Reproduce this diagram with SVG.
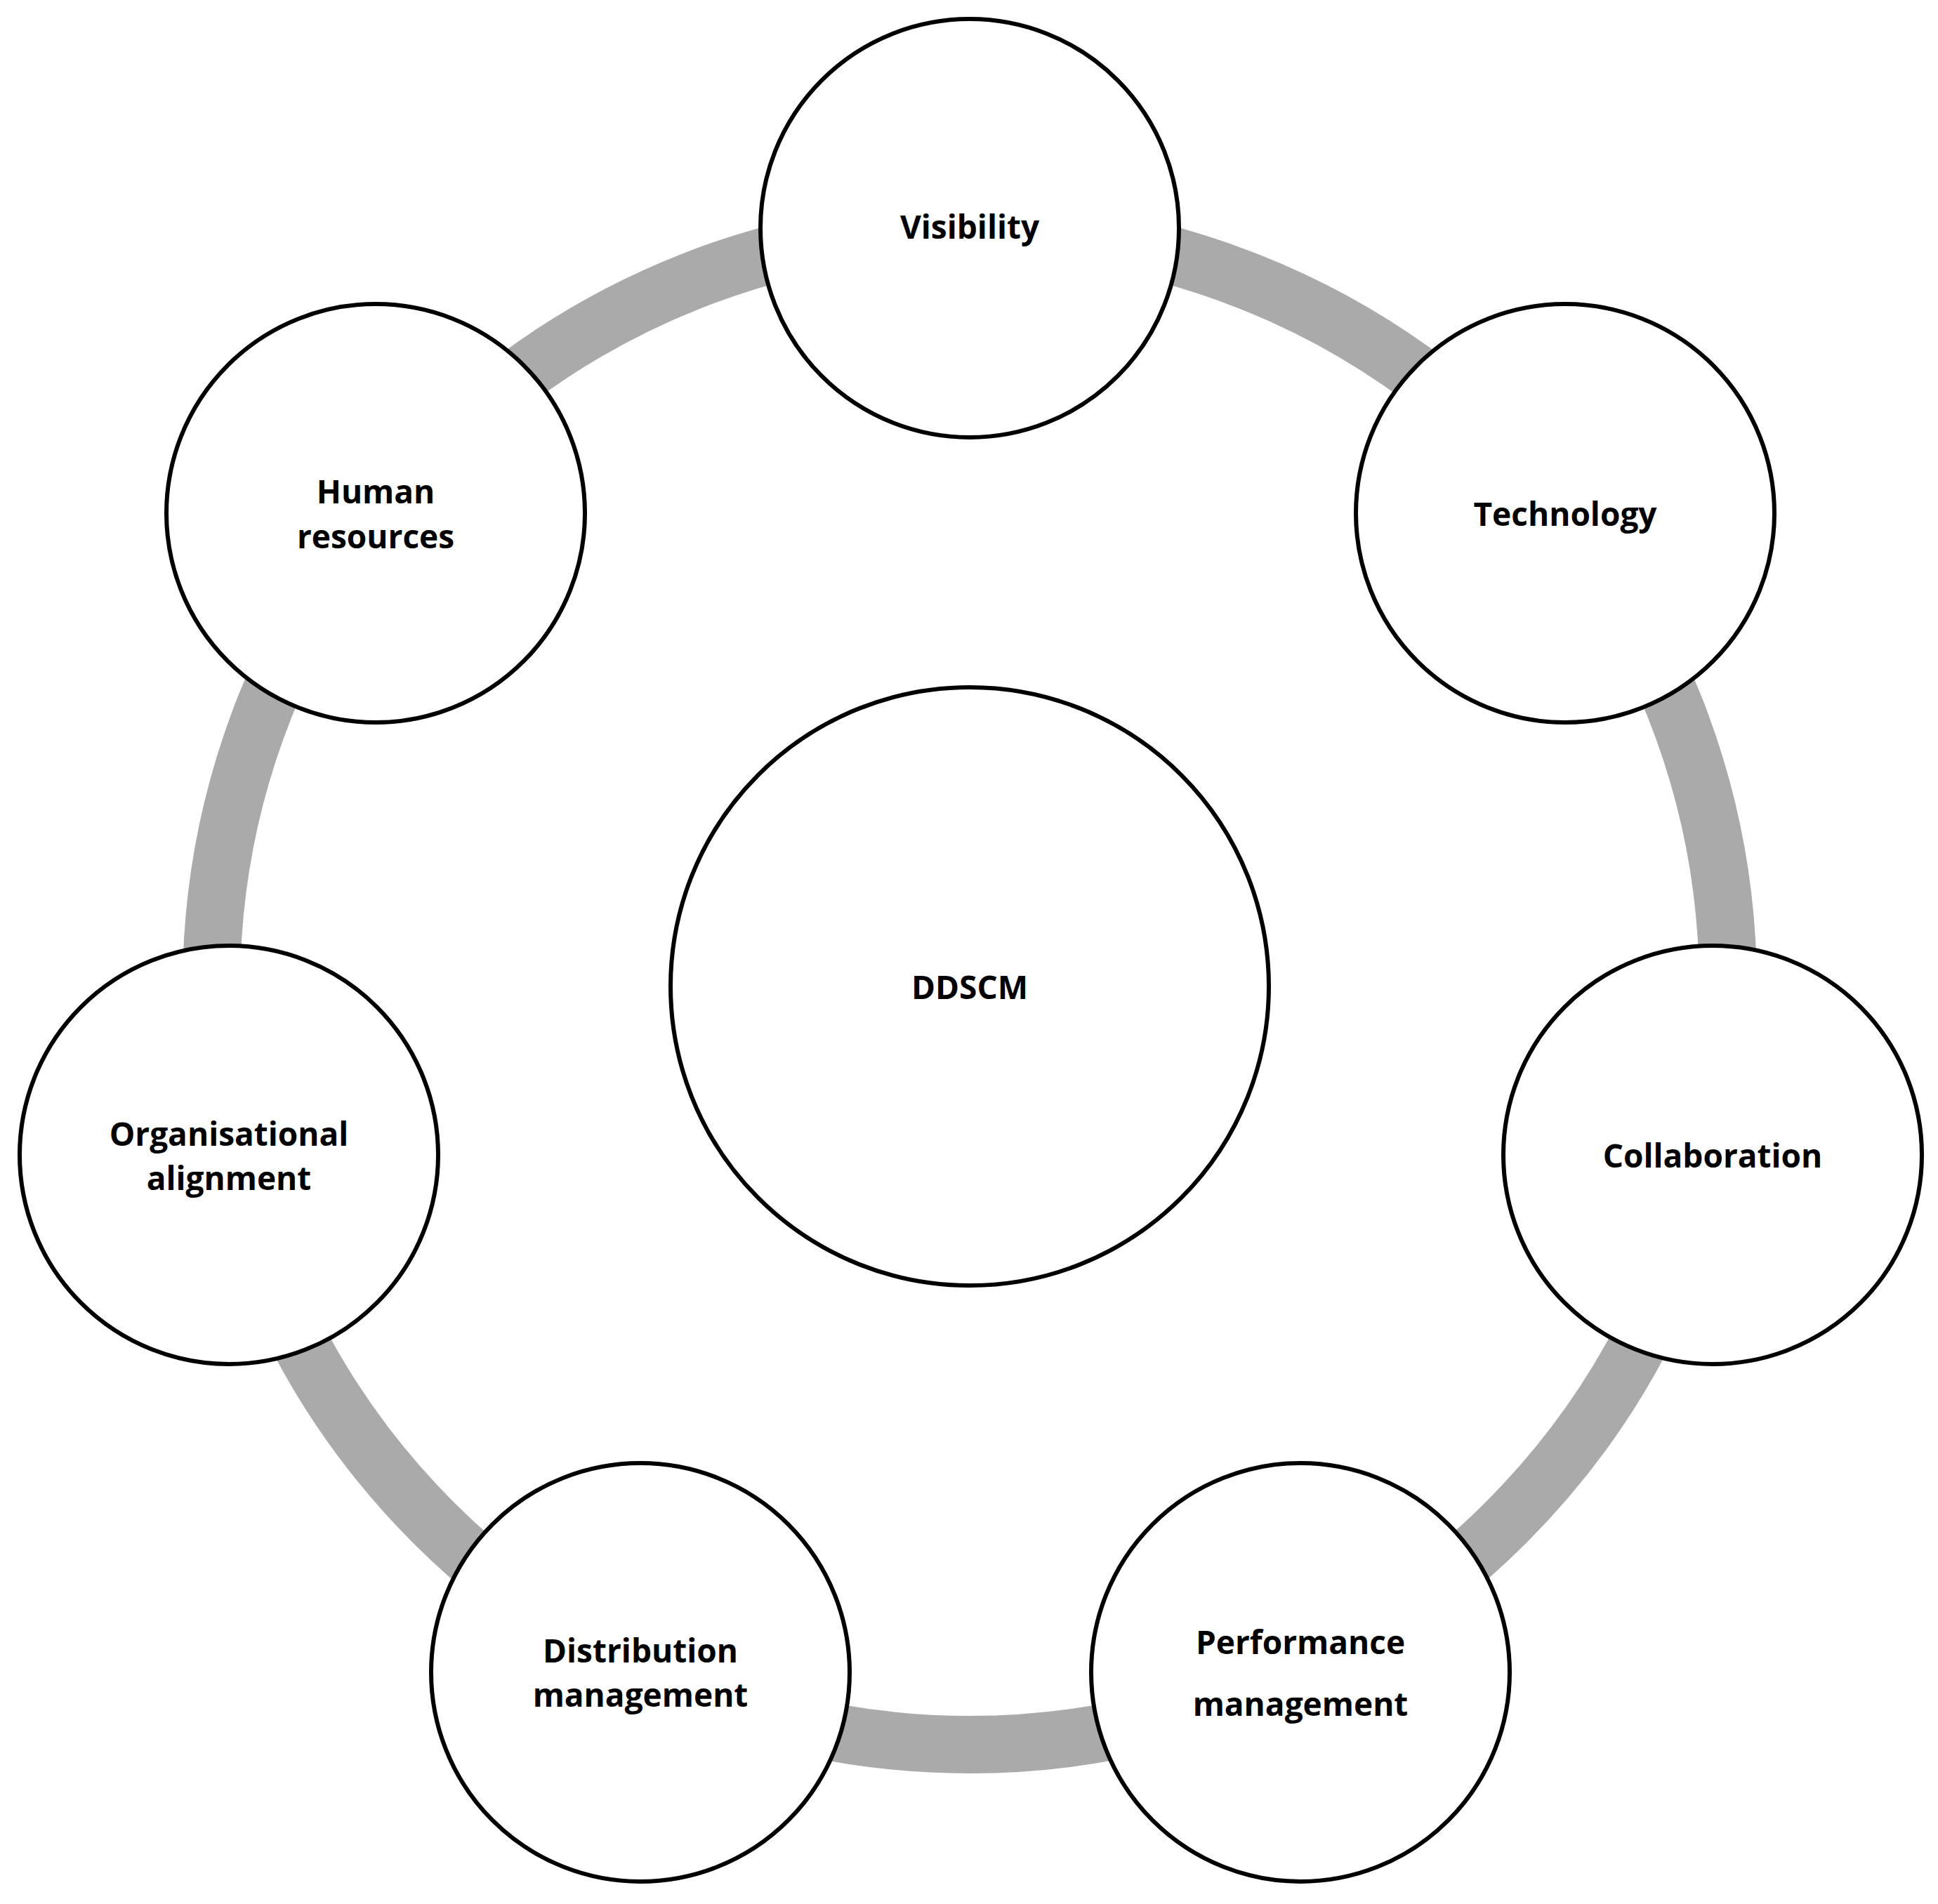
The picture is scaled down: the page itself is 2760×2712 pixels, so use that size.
<svg xmlns="http://www.w3.org/2000/svg" width="2760" height="2712" viewBox="0 0 2760 2712">
<style>
.n{fill:#fff;stroke:#000;stroke-width:6}
.t{font-family:"Open Sans","Liberation Sans",sans-serif;font-weight:700;font-size:46px;text-anchor:middle;dominant-baseline:central;fill:#000}
</style>
<rect width="2760" height="2712" fill="#fff"/>
<g id="connectors"><circle cx="1381" cy="1405" r="1080" fill="none" stroke="#aaaaaa" stroke-width="82"/></g>
<g id="ddscm"><circle class="n" cx="1381" cy="1405" r="426"/><text class="t" x="1381" y="1405">DDSCM</text></g>
<g id="visibility"><circle class="n" cx="1381" cy="325" r="298"/><text class="t" x="1381" y="322">Visibility</text></g>
<g id="technology"><circle class="n" cx="2229" cy="731" r="298"/><text class="t" x="2229" y="731">Technology</text></g>
<g id="collaboration"><circle class="n" cx="2439" cy="1645" r="298"/><text class="t" x="2439" y="1645">Collaboration</text></g>
<g id="performance"><circle class="n" cx="1852" cy="2382" r="298"/><text class="t" x="1852" y="2338">Performance</text><text class="t" x="1852" y="2426">management</text></g>
<g id="distribution"><circle class="n" cx="912" cy="2382" r="298"/><text class="t" x="912" y="2350">Distribution</text><text class="t" x="912" y="2413">management</text></g>
<g id="organisational"><circle class="n" cx="326" cy="1645" r="298"/><text class="t" x="326" y="1614">Organisational</text><text class="t" x="326" y="1677">alignment</text></g>
<g id="human"><circle class="n" cx="535" cy="731" r="298"/><text class="t" x="535" y="699">Human</text><text class="t" x="535" y="763">resources</text></g>
</svg>
